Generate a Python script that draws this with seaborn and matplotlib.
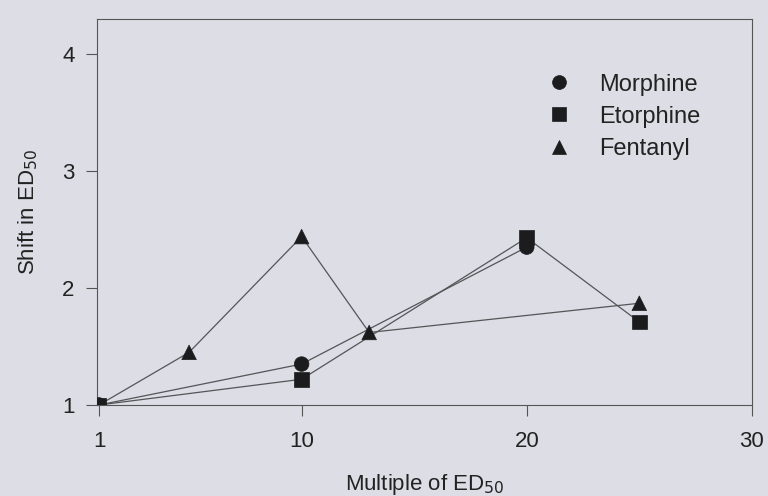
import matplotlib
matplotlib.use("Agg")
import matplotlib.pyplot as plt
import seaborn as sns
import pandas as pd

# Shift in ED50 after pretreatment with multiples of the ED50
drugs = ["Morphine", "Etorphine", "Fentanyl"]
morphine_x = [1, 10, 20]
morphine_y = [1.0, 1.35, 2.35]
etorphine_x = [1, 10, 20, 25]
etorphine_y = [1.0, 1.22, 2.43, 1.71]
fentanyl_x = [1, 5, 10, 13, 25]
fentanyl_y = [1.0, 1.45, 2.44, 1.62, 1.87]

x_ticks = [1, 10, 20, 30]
y_ticks = [1, 2, 3, 4]

frames = []
for name, xs, ys in zip(drugs, [morphine_x, etorphine_x, fentanyl_x],
                        [morphine_y, etorphine_y, fentanyl_y]):
    frames.append(pd.DataFrame({"multiple": xs, "shift": ys, "drug": name}))
df = pd.concat(frames, ignore_index=True)

sns.set_theme(style="ticks")
plt.rcParams["font.family"] = ["Liberation Sans", "DejaVu Sans"]

bg = "#dcdde5"
ink = "#1c1c1e"
fig = plt.figure(figsize=(7.68, 4.96), dpi=100, facecolor=bg)
ax = fig.add_axes([0.126, 0.1835, 0.853, 0.778])
ax.set_facecolor(bg)

sns.lineplot(data=df, x="multiple", y="shift", units="drug", estimator=None,
             color="#555558", linewidth=0.9, legend=False, ax=ax, zorder=2)
sns.scatterplot(data=df, x="multiple", y="shift", style="drug",
                style_order=drugs, markers={"Morphine": "o", "Etorphine": "s",
                                             "Fentanyl": "^"},
                color=ink, s=110, edgecolor=ink, linewidth=0.5, ax=ax, zorder=3)

ax.set_xlim(0.9, 30)
ax.set_ylim(1, 4.3)
ax.set_xticks(x_ticks)
ax.set_yticks(y_ticks)
ax.tick_params(axis="x", length=8, width=0.8, color="#555", pad=11,
               labelsize=16, labelcolor="#222")
ax.tick_params(axis="y", length=8, width=0.8, color="#555", pad=8,
               labelsize=16, labelcolor="#222")
for side in ["left", "right", "top", "bottom"]:
    ax.spines[side].set_visible(True)
    ax.spines[side].set_color("#555")
    ax.spines[side].set_linewidth(0.8)

ax.set_xlabel("Multiple of ED$_{50}$", fontsize=16, color="#222", labelpad=14)
ax.set_ylabel("Shift in ED$_{50}$", fontsize=16, color="#222", labelpad=16)

leg = ax.legend(frameon=False, loc="upper left", bbox_to_anchor=(0.637, 0.914),
                fontsize=17, handletextpad=0.72, labelspacing=0.43,
                markerscale=0.95)
for t in leg.get_texts():
    t.set_color("#222")

fig.savefig("out.png", dpi=100, facecolor=bg)
